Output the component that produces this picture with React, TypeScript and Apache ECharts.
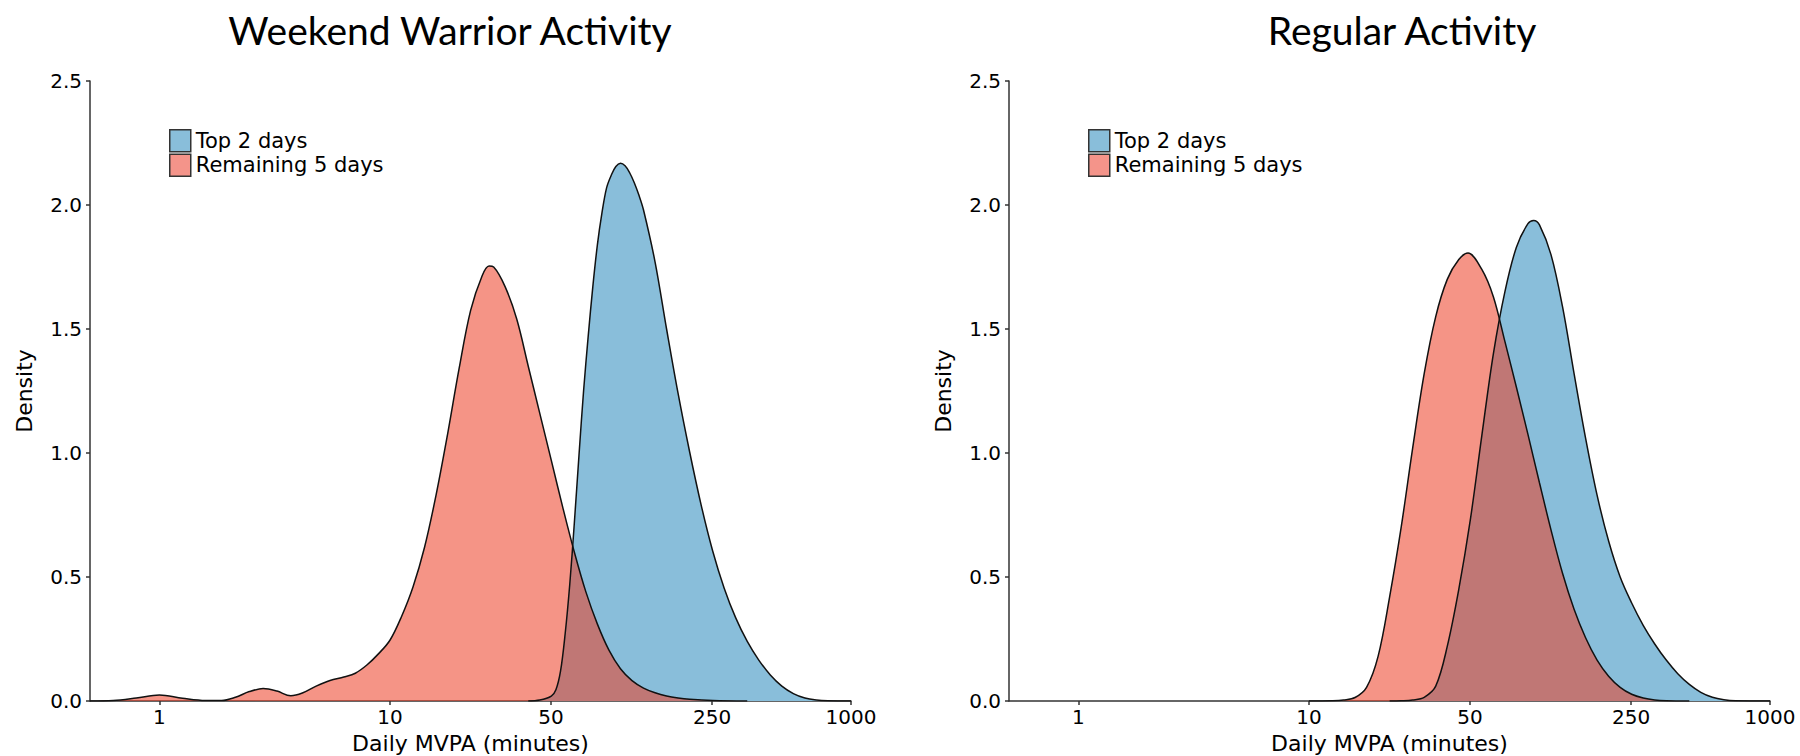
import React, { useEffect, useRef } from "react";
import * as echarts from "echarts";

const panelTitles = ["Weekend Warrior Activity", "Regular Activity"];
const seriesNames = ["Top 2 days", "Remaining 5 days"];
const xAxisTitle = "Daily MVPA (minutes)";
const yAxisTitle = "Density";
const xTickValues = [1, 10, 50, 250, 1000];

// Weekend Warrior Activity — Top 2 days (minutes, density)
const wwTopMinutes = [39.81, 44.67, 50.12, 52.48, 54.95, 57.54, 60.26, 63.1, 66.07, 69.18, 72.44, 75.86, 79.43, 83.18, 87.1, 91.2, 95.5, 100, 104.7, 109.6, 114.8, 120.2, 125.9, 141.3, 158.5, 177.8, 199.5, 223.9, 251.2, 281.8, 316.2, 354.8, 398.1, 446.7, 501.2, 562.3, 631, 707.9, 794.3, 1000];
const wwTopDensity = [0, 0.004, 0.02, 0.045, 0.12, 0.27, 0.47, 0.72, 0.99, 1.25, 1.47, 1.67, 1.84, 1.97, 2.07, 2.12, 2.155, 2.168, 2.158, 2.13, 2.09, 2.04, 1.98, 1.77, 1.5, 1.24, 1.005, 0.79, 0.605, 0.455, 0.335, 0.24, 0.165, 0.105, 0.06, 0.03, 0.012, 0.004, 0.001, 0];

// Weekend Warrior Activity — Remaining 5 days
const wwRestMinutes = [0.5, 0.631, 0.794, 1, 1.259, 1.585, 1.862, 2.138, 2.455, 2.818, 3.236, 3.715, 4.169, 4.786, 5.495, 6.31, 7.079, 7.943, 8.913, 10, 11.22, 12.59, 14.13, 15.85, 17.78, 19.95, 22.39, 25.12, 26.92, 28.18, 31.62, 35.48, 39.81, 44.67, 50.12, 56.23, 63.1, 70.79, 79.43, 89.13, 100, 112.2, 125.9, 141.3, 158.5, 177.8, 199.5, 251.2, 354.8];
const wwRestDensity = [0, 0.002, 0.012, 0.024, 0.011, 0.002, 0.002, 0.015, 0.038, 0.05, 0.04, 0.021, 0.032, 0.06, 0.083, 0.097, 0.112, 0.145, 0.19, 0.245, 0.34, 0.46, 0.62, 0.83, 1.075, 1.34, 1.575, 1.715, 1.754, 1.75, 1.67, 1.54, 1.35, 1.16, 0.97, 0.78, 0.6, 0.44, 0.31, 0.205, 0.13, 0.082, 0.052, 0.033, 0.02, 0.012, 0.007, 0.002, 0];

// Regular Activity — Top 2 days
const regTopMinutes = [22.39, 25.12, 28.18, 31.62, 35.48, 39.81, 44.67, 50.12, 56.23, 63.1, 70.79, 79.43, 89.13, 94.41, 100, 112.2, 125.9, 141.3, 158.5, 177.8, 199.5, 223.9, 251.2, 281.8, 316.2, 354.8, 398.1, 446.7, 501.2, 562.3, 631, 707.9, 1000];
const regTopDensity = [0, 0.001, 0.004, 0.015, 0.06, 0.22, 0.45, 0.73, 1.07, 1.4, 1.65, 1.83, 1.925, 1.938, 1.92, 1.8, 1.59, 1.32, 1.06, 0.83, 0.645, 0.5, 0.395, 0.305, 0.23, 0.165, 0.11, 0.067, 0.035, 0.015, 0.005, 0.001, 0];

// Regular Activity — Remaining 5 days
const regRestMinutes = [10, 12.59, 14.13, 15.85, 17.78, 19.95, 22.39, 25.12, 28.18, 31.62, 35.48, 39.81, 44.67, 48.98, 56.23, 63.1, 70.79, 79.43, 89.13, 100, 112.2, 125.9, 141.3, 158.5, 177.8, 199.5, 223.9, 251.2, 281.8, 316.2, 354.8, 446.7];
const regRestDensity = [0, 0.001, 0.004, 0.014, 0.055, 0.18, 0.42, 0.7, 1.02, 1.32, 1.55, 1.7, 1.78, 1.806, 1.74, 1.63, 1.45, 1.265, 1.075, 0.88, 0.69, 0.515, 0.37, 0.255, 0.165, 0.1, 0.055, 0.027, 0.012, 0.004, 0.001, 0];

const FONT = "DejaVu Sans";
const TITLE_FONT = "Lato";
const topFill = "#89BEDA";
const restFill = "rgba(236, 60, 34, 0.55)";
const restSwatch = "#F4948A";
const axisColor = "#333333";

const toPairs = (m: number[], d: number[]) => m.map((v, i) => [v, d[i]]);

export default function App() {
  const ref = useRef<HTMLDivElement>(null);

  useEffect(() => {
    if (!ref.current) return;
    const chart = echarts.init(ref.current, null, { renderer: "svg" });

    const gridLefts = [90, 1009];
    const legendLefts = [169, 1088];
    const titleCenters = [450, 1402];

    const makeX = (gridIndex: number) => ({
      type: "log",
      logBase: 10,
      gridIndex,
      min: 0.5,
      max: 1000,
      name: xAxisTitle,
      nameLocation: "middle",
      nameGap: 31,
      nameTextStyle: { fontFamily: FONT, fontSize: 22, color: "#000" },
      axisLine: { show: true, onZero: false, lineStyle: { color: axisColor, width: 1.5 } },
      axisTick: { show: true, inside: false, length: 4, customValues: xTickValues, lineStyle: { color: axisColor, width: 1.5 } },
      axisLabel: {
        customValues: xTickValues,
        fontFamily: FONT,
        fontSize: 20,
        color: "#000",
        margin: 6,
        formatter: (v: number) => String(Math.round(v)),
      },
      splitLine: { show: false },
      minorTick: { show: false },
    });

    const makeY = (gridIndex: number) => ({
      type: "value",
      gridIndex,
      min: 0,
      max: 2.5,
      interval: 0.5,
      name: yAxisTitle,
      nameLocation: "middle",
      nameGap: 55,
      nameTextStyle: { fontFamily: FONT, fontSize: 22, color: "#000" },
      axisLine: { show: true, onZero: false, lineStyle: { color: axisColor, width: 1.5 } },
      axisTick: { show: true, inside: false, length: 4, lineStyle: { color: axisColor, width: 1.5 } },
      axisLabel: {
        fontFamily: FONT,
        fontSize: 20,
        color: "#000",
        margin: 8,
        formatter: (v: number) => v.toFixed(1),
      },
      splitLine: { show: false },
    });

    const lineCommon = {
      type: "line",
      showSymbol: false,
      symbol: "none",
      smooth: 0.35,
      silent: true,
      lineStyle: { color: "#111", width: 1.5 },
      emphasis: { disabled: true },
    };

    const panels = [
      { top: [wwTopMinutes, wwTopDensity], rest: [wwRestMinutes, wwRestDensity] },
      { top: [regTopMinutes, regTopDensity], rest: [regRestMinutes, regRestDensity] },
    ];

    const series: any[] = [];
    panels.forEach((p, i) => {
      series.push({
        ...lineCommon,
        name: seriesNames[0],
        xAxisIndex: i,
        yAxisIndex: i,
        data: toPairs(p.top[0], p.top[1]),
        itemStyle: { color: topFill },
        areaStyle: { color: topFill, opacity: 1 },
      });
      series.push({
        ...lineCommon,
        name: seriesNames[1],
        xAxisIndex: i,
        yAxisIndex: i,
        data: toPairs(p.rest[0], p.rest[1]),
        itemStyle: { color: restSwatch },
        areaStyle: { color: restFill, opacity: 1 },
      });
    });

    const option: any = {
      animation: false,
      backgroundColor: "#ffffff",
      title: panelTitles.map((t, i) => ({
        text: t,
        left: titleCenters[i],
        top: 10,
        textAlign: "center",
        padding: 0,
        textStyle: { fontFamily: TITLE_FONT, fontSize: 39, fontWeight: "normal", color: "#000" },
      })),
      legend: [0, 1].map((i) => ({
        orient: "vertical",
        left: legendLefts[i],
        top: 129,
        padding: 0,
        itemGap: 1,
        itemWidth: 21,
        itemHeight: 22,
        icon: "rect",
        selectedMode: false,
        itemStyle: { borderColor: "#333", borderWidth: 1.5 },
        textStyle: { fontFamily: FONT, fontSize: 21, color: "#000" },
        data: [
          { name: seriesNames[0], itemStyle: { color: topFill } },
          { name: seriesNames[1], itemStyle: { color: restSwatch } },
        ],
      })),
      grid: gridLefts.map((l) => ({ left: l, top: 81, width: 761, height: 620, outerBoundsMode: "none", containLabel: false })),
      xAxis: [makeX(0), makeX(1)],
      yAxis: [makeY(0), makeY(1)],
      series,
    };

    chart.setOption(option);
    return () => chart.dispose();
  }, []);

  return (
    <div
      ref={ref}
      style={{ position: "fixed", left: 0, top: 0, width: 1800, height: 756, background: "#fff" }}
    />
  );
}
